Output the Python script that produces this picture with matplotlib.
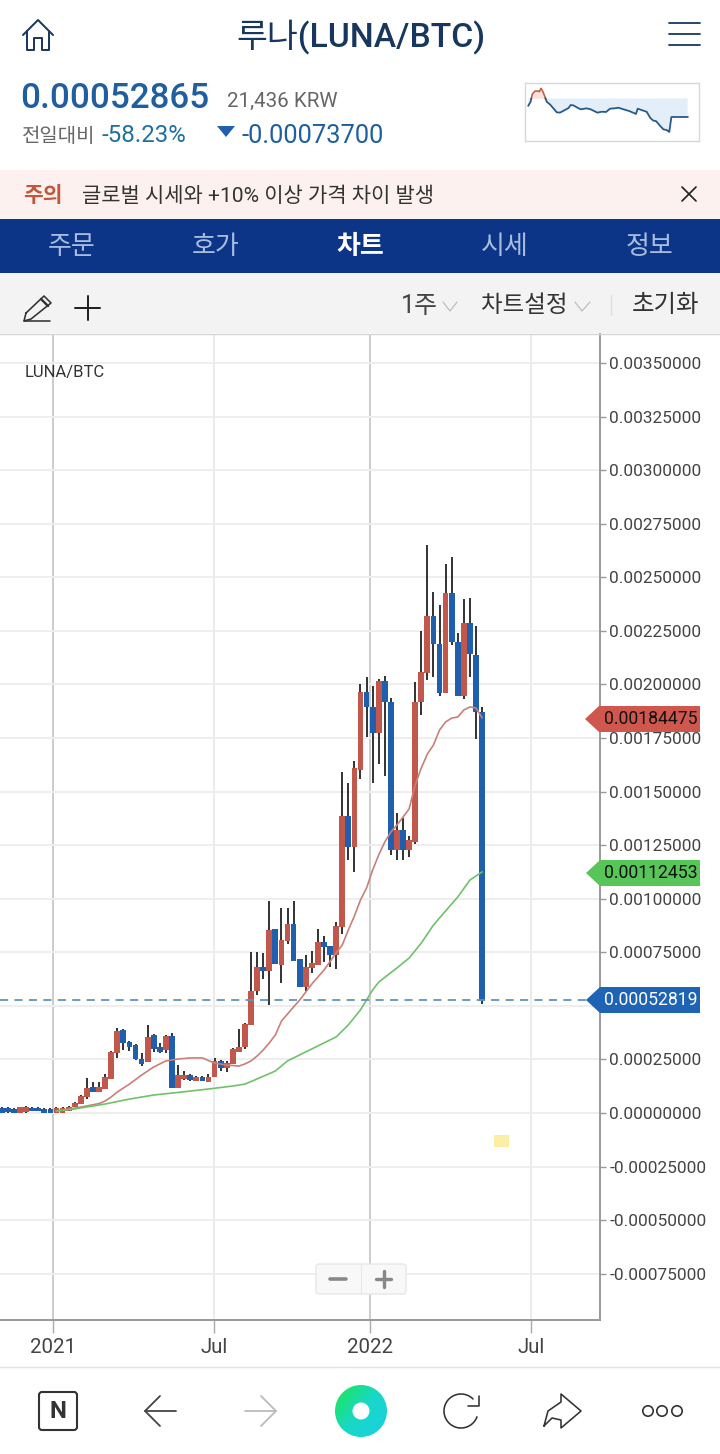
import numpy as np
import matplotlib
matplotlib.use('Agg')
import matplotlib.pyplot as plt
from matplotlib.patches import Polygon, Rectangle, Circle, FancyBboxPatch
from matplotlib.colors import LinearSegmentedColormap

FONT = ['Roboto', 'Noto Sans CJK KR', 'DejaVu Sans']
plt.rcParams['font.family'] = FONT

UNIT = 1e-6  # every price list below is in units of 0.000001 BTC
week = list(range(1, 81))
opens = [23,23,19,2,5,23,23,19,19,2,2,9,28,42,75,121,98,112,159,280,387,331,317,252,238,364,308,294,359,117,
         159,177,149,168,145,168,243,210,229,285,308,411,569,681,663,859,691,803,882,719,588,677,691,798,779,737,
         868,1386,1241,1601,1965,1895,1773,2016,1918,1227,1321,1227,1265,1918,2053,2319,2189,1960,2427,2198,1946,
         2287,2137,1871]
closes = [2,5,2,28,28,9,9,2,2,23,23,28,47,79,117,98,121,168,285,383,327,308,252,229,355,299,285,359,117,177,
          177,154,168,149,168,243,210,233,299,308,415,569,681,663,854,695,807,882,709,588,681,700,798,775,737,873,
          1386,1241,1610,1965,1895,1773,2016,1918,1227,1321,1227,1274,1918,2058,2319,2189,1960,2427,2198,1946,2287,
          2142,1871,523]
highs = [28,28,23,30,33,28,28,23,23,28,28,33,51,84,163,145,145,182,289,397,392,336,322,280,411,369,327,364,373,224,
         196,182,173,173,182,257,247,243,303,392,420,751,751,747,989,859,957,957,989,719,737,756,859,826,779,891,
         1591,1540,1643,2002,2035,1993,2025,2039,1937,1400,1377,1293,2011,2249,2651,2431,2371,2562,2595,2240,2399,
         2404,2273,1895]
lows = [2,2,2,2,2,9,9,2,2,2,2,9,28,42,65,98,98,112,159,257,294,289,247,219,238,285,280,280,117,117,
        154,149,149,149,145,168,196,191,229,285,299,411,551,625,504,695,607,789,709,588,569,653,691,705,681,672,
        835,1181,1125,1559,1755,1540,1629,1573,1204,1181,1181,1195,1255,1857,2021,2035,1946,1960,2184,1946,1932,
        2035,1745,509]

red_ma_week = [10,13,15,17,18,19,20,22,24,26,28,30,32,34,36,38,40,41,42,43,44,45,46,47,48,49,50,52,54,56,57,58,59,
               60,61,62,63,64,65,66,67,68,69,70,71,72,73,74,75,76,77,78,79,80]
red_ma = [9,23,33,44,56,75,98,135,177,215,243,252,257,257,233,224,219,229,243,266,294,327,364,429,462,495,527,602,
          667,747,784,854,919,994,1050,1134,1204,1265,1311,1344,1381,1419,1531,1610,1675,1717,1787,1825,1843,1848,
          1881,1895,1890,1845]
green_ma_week = [10,13,18,22,26,30,35,39,41,43,46,48,50,53,56,58,60,62,63,66,68,70,72,74,76,78,80]
green_ma = [9,19,42,65,84,96,112,126,135,159,196,243,271,313,355,411,481,574,611,677,723,793,877,943,1008,1087,1125]

y_ticks = [-0.00075,-0.0005,-0.00025,0,0.00025,0.0005,0.00075,0.001,0.00125,0.0015,0.00175,0.002,0.00225,0.0025,
           0.00275,0.003,0.00325,0.0035]
x_tick_pos = [9.45, 35.9, 61.6, 88.0]
x_tick_lab = ['2021', 'Jul', '2022', 'Jul']
last_close = 0.00052819
ma_short_last = '0.00184475'
ma_long_last = '0.00112453'

# sparkline: minutes-like step index, price in units of 0.00001
spark_t = [0,7,12,20,28,33,38,43,48,55,65,75,85,95,110,120,127,135,147,157,173,185,195,207,220,233,245,260,270,285,
           300,315,323,328,340,355,365,375,383,393,405,415,423,429,478]
spark_v = [97.6,113.4,143.7,155.5,155.5,152.9,166.1,155.5,139.8,113.4,102.9,87.1,71.3,70.0,80.5,87.1,100.3,99.0,
           89.8,83.2,87.1,84.5,77.9,70.0,73.9,72.6,85.8,87.1,89.8,83.2,77.9,70.0,64.7,85.8,80.5,73.9,50.3,38.4,37.1,
           21.3,4.2,1.6,-6.3,52.9,52.9]
spark_base = 126.6

RED = '#c2574c'
BLUE = '#1f5fad'
W, H = 720, 1454
fig = plt.figure(figsize=(W/100, H/100), dpi=100, facecolor='white')

# ---------- main chart ----------
ax = fig.add_axes([0, (H-1320)/H, 600/W, 986/H])
ax.set_xlim(0.707, 99.4)
ax.set_ylim(-0.000966, 0.0036355)
ax.yaxis.tick_right()
ax.set_yticks(y_ticks)
# the 0.00050000 label sits hidden behind the last-price flag in the reference
ax.set_yticklabels([f'{v:.8f}' if v != 0.0005 else '' for v in y_ticks], fontsize=12.4, color='#444444')
ax.set_xticks(x_tick_pos)
ax.set_xticklabels(x_tick_lab, fontsize=14.8, color='#444444')
ax.tick_params(axis='y', length=4, width=1, color='#999999', pad=2.6)
ax.tick_params(axis='x', length=9, width=1, color='#aaaaaa', pad=4)
for s in ('top', 'left'):
    ax.spines[s].set_visible(False)
for s in ('right', 'bottom'):
    ax.spines[s].set_color('#999999')
    ax.spines[s].set_linewidth(1.4)
ax.grid(axis='y', color='#eeeeee', lw=1.4, zorder=0)
for p, c, lw in zip(x_tick_pos, ['#c8c8c8', '#e6e6e6', '#c8c8c8', '#e6e6e6'], [1.3, 1.1, 1.3, 1.1]):
    ax.axvline(p, color=c, lw=lw, zorder=1)

o, c_, hi, lo = [np.array(a) * UNIT for a in (opens, closes, highs, lows)]
x = np.array(week)
colors = [RED if b >= a else BLUE for a, b in zip(o, c_)]
ax.vlines(x, lo, hi, color='#222222', lw=1.3, zorder=3)
ax.bar(x, np.abs(c_ - o), bottom=np.minimum(o, c_), width=0.95, color=colors, linewidth=0, zorder=4)
ax.plot(red_ma_week, np.array(red_ma) * UNIT, color='#c98078', lw=1.2, zorder=5)
ax.plot(green_ma_week, np.array(green_ma) * UNIT, color='#6fc26a', lw=1.2, zorder=5)
ax.plot([0.707, 97.8], [last_close, last_close], color='#5f93c4', lw=1.3, dashes=(4.5, 3.5), zorder=5, clip_on=False)
ax.text(0.0417, 0.9605, 'LUNA/BTC', transform=ax.transAxes, fontsize=12, color='#333333', va='center')

# ---------- overlay: app chrome ----------
ov = fig.add_axes([0, 0, 1, 1], facecolor='none', zorder=10)
ov.set_axis_off()

def ln(xs, ys, c='#1b3a5e', w=2.0, **k):
    ov.plot(xs, ys, color=c, lw=w*0.72, solid_capstyle='round', solid_joinstyle='round', **k)

def tx(px, py, s, size, c='#333333', ha='left', weight='normal'):
    ov.text(px, py + 2, s, fontsize=size*0.72, color=c, ha=ha, va='center', fontweight=weight, family=FONT)

ov.add_patch(Rectangle((0, 170), W, 49, color='#fdf1ef', lw=0))
ov.add_patch(Rectangle((0, 219), W, 54, color='#0c3587', lw=0))
ov.add_patch(Rectangle((0, 273), W, 60, color='#f3f3f3', lw=0))
ov.plot([0, W], [333.5, 333.5], color='#d5d5d5', lw=1)
ov.plot([0, W], [1367, 1367], color='#e4e4e4', lw=1)

# header
ln([23, 38, 53], [35, 20, 35])
ln([27, 27, 34, 34, 42, 42, 49, 49], [31, 50, 50, 38, 38, 50, 50, 31])
tx(360.5, 35, '루나(LUNA/BTC)', 33.6, '#17375e', 'center', 'medium')
for yy in (23, 34, 45):
    ln([669, 700], [yy, yy], '#17375e', 1.8)

tx(20, 96, '0.00052865', 35, '#1f5f9f', weight='medium')
tx(227, 99, '21,436 KRW', 20.5, '#666666')
tx(22, 134, '전일대비', 20, '#666666')
tx(102, 134, '-58.23%', 24, '#1f6f9f')
ov.add_patch(Polygon([[217, 126], [235, 126], [226, 137]], color='#1f5fad', lw=0))
tx(241, 134, '-0.00073700', 25.5, '#1f5f9f')

# sparkline
sp = fig.add_axes([525.3/W, (H-141)/H, 174/W, 58.3/H], zorder=11)
sp.set_xlim(-9, 513)
sp.set_ylim(-41.9, 188.4)
sp.set_xticks([]); sp.set_yticks([])
for s in sp.spines.values():
    s.set_color('#d8d8d8'); s.set_linewidth(1.0)
t = np.array(spark_t, float); v = np.array(spark_v)
tt = np.linspace(t[0], t[-1], 1500)
vv = np.interp(tt, t, v)
sp.fill_between(tt, vv, spark_base, where=vv <= spark_base, color='#e3eef9', lw=0)
sp.fill_between(tt, vv, spark_base, where=vv >= spark_base, color='#fbe3dd', lw=0)
sp.plot(np.ma.masked_where(vv < spark_base, tt), vv, color='#c0604f', lw=1.2)
sp.plot(np.ma.masked_where(vv > spark_base, tt), vv, color='#2a5b86', lw=1.3)

# warning
tx(23, 194, '주의', 21.5, '#c0593c', weight='bold')
tx(82, 194, '글로벌 시세와 +10% 이상 가격 차이 발생', 21, '#333333')
ln([682, 696], [187, 201], '#222222', 1.7); ln([696, 682], [187, 201], '#222222', 1.7)

# tabs
for px, s, cc, wg in [(72, '주문', '#a8bcdf', 'normal'), (216, '호가', '#a8bcdf', 'normal'), (360, '차트', 'white', 'bold'),
                      (505, '시세', '#a8bcdf', 'normal'), (649, '정보', '#a8bcdf', 'normal')]:
    tx(px, 245, s, 26, cc, 'center', wg)

# toolbar
ln([24, 50], [321, 321], '#333333', 1.6)
ln([26, 24, 24, 31, 51, 44, 26], [313, 321, 321, 319, 303, 296, 313], '#333333', 1.6)
ln([41, 48], [299, 306], '#333333', 2.4)
ln([75, 100], [308, 308], '#222222', 2); ln([87.5, 87.5], [296, 320], '#222222', 2)
tx(419, 304, '1주', 25, '#444444', 'center')
ln([443, 450, 457], [302, 311, 302], '#bbbbbb', 1.2)
tx(524, 304, '차트설정', 23.5, '#333333', 'center')
ln([575, 582, 590], [302, 311, 302], '#bbbbbb', 1.2)
ln([611, 611], [295, 315], '#dddddd', 1.2)
tx(665.5, 303, '초기화', 24.5, '#333333', 'center')

# last-value flags
for y0, cc, tc, s, xl in [(719, '#d0574e', '#111111', ma_short_last, 585), (873, '#58c558', '#111111', ma_long_last, 586),
                          (1000, '#1f63b4', 'white', f'{last_close:.8f}', 586)]:
    ov.add_patch(Polygon([[xl, y0], [xl+14, y0-13], [700, y0-13], [700, y0+13], [xl+14, y0+13]], color=cc, lw=0))
    tx(651, y0 - 2, s, 17.6, tc, 'center')

# yellow marker and zoom buttons
ov.add_patch(Rectangle((494, 1135), 15, 12, color='#fbeea6', lw=0))
ov.add_patch(FancyBboxPatch((317, 1265), 88, 28, boxstyle='round,pad=1,rounding_size=3', fc='#f8f8f8', ec='#e8e8e8', lw=1))
ln([361, 361], [1265, 1293], '#e6e6e6', 1)
ln([330, 346], [1279, 1279], '#888888', 3.6)
ln([376, 391], [1279, 1279], '#888888', 3.4); ln([383.5, 383.5], [1271, 1287], '#888888', 3.4)

# bottom nav
ov.add_patch(FancyBboxPatch((40, 1393), 36, 36, boxstyle='round,pad=1,rounding_size=3', fc='white', ec='#333333', lw=1.5))
tx(58, 1409, 'N', 24, '#333333', 'center', 'bold')
ln([145, 176], [1411, 1411], '#444444', 1.8); ln([160, 145, 160], [1396, 1411, 1426], '#444444', 1.8)
ln([245, 276], [1411, 1411], '#bbbbbb', 1.8); ln([261, 276, 261], [1396, 1411, 1426], '#bbbbbb', 1.8)

cm = LinearSegmentedColormap.from_list('g', ['#1ce84a', '#18d8c8', '#1ad0e0'])
yy_, xx_ = np.mgrid[0:1:64j, 0:1:64j]
im = ov.imshow(xx_*0.55+yy_*0.45, extent=(335, 387, 1437, 1385), cmap=cm, aspect='auto', zorder=2)
im.set_clip_path(Circle((361, 1411), 26, transform=ov.transData))
ov.add_patch(Circle((361, 1411), 8.5, color='white', lw=0, zorder=3))

th = np.radians(np.arange(20, 320, 5))
ln(461+17*np.cos(th), 1411+17*np.sin(th), '#333333', 1.6)
ln([479, 479, 468], [1396, 1406, 1406], '#333333', 1.6)
ln([544, 548, 561, 561, 581, 561, 561, 552, 544], [1426, 1411, 1402, 1394, 1411, 1428, 1420, 1418, 1426], '#333333', 1.6)
for cxx in (648, 662, 677):
    ov.add_patch(Circle((cxx, 1411), 5.2, fc='white', ec='#333333', lw=1.2))

ov.set_xlim(0, W)
ov.set_ylim(H, 0)
fig.savefig('out.png', dpi=100)
